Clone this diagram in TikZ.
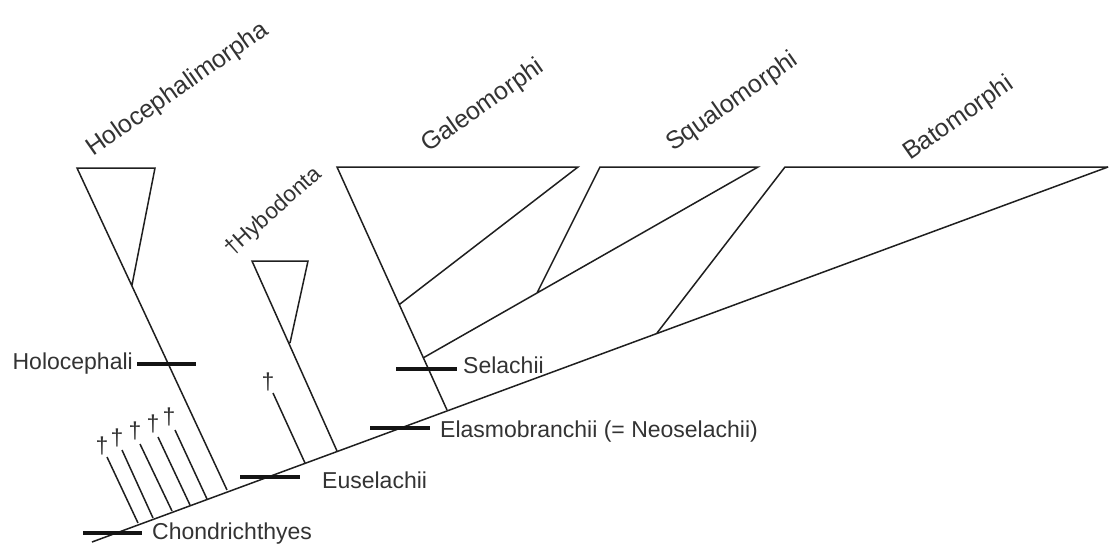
\documentclass[tikz,border=0pt]{standalone}
\usepackage{fontspec}
\setmainfont{Liberation Sans}
\begin{document}
\begin{tikzpicture}[x=1pt,y=-1pt,
  branch/.style={draw=black!88, line width=1.5pt, line join=miter},
  tickbar/.style={draw=black!92, line width=3.2pt},
  lab/.style={inner sep=0pt, text=black!80, font=\fontsize{23}{27}\selectfont},
  rlab/.style={inner sep=0pt, text=black!80, anchor=base west, rotate=35, font=\fontsize{25}{29}\selectfont},
  rlabsmall/.style={inner sep=0pt, text=black!80, anchor=base west, rotate=42, font=\fontsize{22.5}{26}\selectfont},
  dag/.style={inner sep=0pt, text=black!80, font=\fontsize{23}{27}\selectfont}]
\useasboundingbox[fill=white] (0,0) rectangle (1109,546);

% main spine
\coordinate (s0) at (92,542);
\coordinate (sR) at (1108,167);
\draw[branch] (s0) -- (sR);

% Holocephalimorpha
\coordinate (hoL) at (77,168);
\coordinate (hoR) at (155,168);
\coordinate (hoV) at (132,285);
\coordinate (hoB) at (227,490);
\draw[branch] (hoB) -- (hoL) -- (hoR) -- (hoV);

% fossil stem lineages
\coordinate (f1a) at (107,457); \coordinate (f1b) at (138,523);
\coordinate (f2a) at (122,450); \coordinate (f2b) at (153,518);
\coordinate (f3a) at (140,444); \coordinate (f3b) at (172,511);
\coordinate (f4a) at (158,437); \coordinate (f4b) at (190,505);
\coordinate (f5a) at (175,430); \coordinate (f5b) at (207,499);
\draw[branch] (f1a) -- (f1b);
\draw[branch] (f2a) -- (f2b);
\draw[branch] (f3a) -- (f3b);
\draw[branch] (f4a) -- (f4b);
\draw[branch] (f5a) -- (f5b);
\node[dag] (d1) at (102,446) {†};
\node[dag] (d2) at (117,438) {†};
\node[dag] (d3) at (135,431) {†};
\node[dag] (d4) at (153,424) {†};
\node[dag] (d5) at (169,417) {†};

% Hybodonta
\coordinate (hyL) at (252,261);
\coordinate (hyR) at (308,261);
\coordinate (hyV) at (290,343);
\coordinate (hyB) at (337,451);
\draw[branch] (hyB) -- (hyL) -- (hyR) -- (hyV);
\coordinate (fha) at (273,393); \coordinate (fhb) at (305,463);
\draw[branch] (fha) -- (fhb);
\node[dag] (dh) at (268,382) {†};

% Galeomorphi
\coordinate (gaL) at (337,167);
\coordinate (gaR) at (578,167);
\coordinate (gaB) at (447,410);
\coordinate (gaI) at (400,304);
\draw[branch] (gaB) -- (gaL) -- (gaR) -- (gaI);

% Squalomorphi
\coordinate (sqL) at (600,167);
\coordinate (sqR) at (758,167);
\coordinate (sqM) at (537,293);
\coordinate (sqB) at (423,358);
\draw[branch] (sqM) -- (sqL) -- (sqR) -- (sqB);

% Batomorphi
\coordinate (baL) at (785,167);
\coordinate (baB) at (657,333);
\draw[branch] (baB) -- (baL) -- (sR);

% apomorphy bars
\coordinate (tc1) at (83,533);  \coordinate (tc2) at (142,533);
\coordinate (te1) at (240,477); \coordinate (te2) at (300,477);
\coordinate (tn1) at (370,428); \coordinate (tn2) at (430,428);
\coordinate (ts1) at (396,369); \coordinate (ts2) at (457,369);
\coordinate (th1) at (137,364); \coordinate (th2) at (196,364);
\draw[tickbar] (tc1) -- (tc2);
\draw[tickbar] (te1) -- (te2);
\draw[tickbar] (tn1) -- (tn2);
\draw[tickbar] (ts1) -- (ts2);
\draw[tickbar] (th1) -- (th2);

% horizontal labels
\node[lab, anchor=base west] (lchon) at (152,539) {Chondrichthyes};
\node[lab, anchor=base west] (leus) at (322,488) {Euselachii};
\node[lab, anchor=base west] (lela) at (440,437) {Elasmobranchii (= Neoselachii)};
\node[lab, anchor=base west] (lsel) at (463,373) {Selachii};
\node[lab, anchor=base east] (lhol) at (133,369) {Holocephali};

% rotated clade labels
\node[rlab] (rhol) at (93,157) {Holocephalimorpha};
\node[rlabsmall] (rhyb) at (232,257) {†Hybodonta};
\node[rlab] (rgal) at (428,153) {Galeomorphi};
\node[rlab] (rsqu) at (673,152) {Squalomorphi};
\node[rlab] (rbat) at (910,161) {Batomorphi};
\end{tikzpicture}
\end{document}
